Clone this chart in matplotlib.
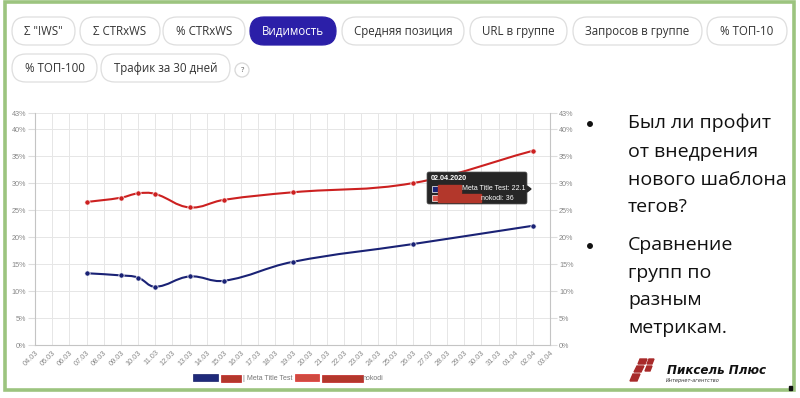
import matplotlib
matplotlib.use("Agg")
import matplotlib.pyplot as plt
import numpy as np
from matplotlib.path import Path
from matplotlib.patches import PathPatch, FancyBboxPatch, Rectangle, Polygon, Circle, Ellipse

# ---------------- data ----------------
dates = ["04.03", "05.03", "06.03", "07.03", "08.03", "09.03", "10.03", "11.03", "12.03",
         "13.03", "14.03", "15.03", "16.03", "17.03", "18.03", "19.03", "20.03", "21.03",
         "22.03", "23.03", "24.03", "25.03", "26.03", "27.03", "28.03", "29.03", "30.03",
         "31.03", "01.04", "02.04", "03.04"]
point_dates = ["07.03", "09.03", "10.03", "11.03", "13.03", "15.03", "19.03", "26.03", "02.04"]
meta_title_test = [13.3, 12.9, 12.5, 10.8, 12.7, 11.9, 15.4, 18.7, 22.1]
group_nokodi = [26.5, 27.3, 28.1, 28.0, 25.5, 26.9, 28.3, 30.0, 36.0]
y_ticks = [0, 5, 10, 15, 20, 25, 30, 35, 40, 43]
buttons_row1 = ['Σ "!WS"', "Σ CTRxWS", "% CTRxWS", "Видимость", "Средняя позиция",
                "URL в группе", "Запросов в группе", "% ТОП-10"]
buttons_row2 = ["% ТОП-100", "Трафик за 30 дней"]
bullets = [["Был ли профит", "от внедрения", "нового шаблона", "тегов?"],
           ["Сравнение", "групп по", "разным", "метрикам."]]

W, H = 800, 398
fig = plt.figure(figsize=(W / 100, H / 100), dpi=100)
fig.patch.set_facecolor("white")
CF = "Liberation Sans"

# ---------------- chart ----------------
L, R, T, B = 35, 550, 113, 345
ax = fig.add_axes([L / W, 1 - B / H, (R - L) / W, (B - T) / H])
ax.set_xlim(0, len(dates) - 1)
ax.set_ylim(0, 43)
ax.set_xticks(range(len(dates)))
ax.set_xticklabels(dates, rotation=45, ha="right", va="top", rotation_mode="anchor",
                   fontsize=5.3, color="#888888", family=CF)
ax.set_yticks(y_ticks)
ax.set_yticklabels([f"{v}%" for v in y_ticks], fontsize=5.2, color="#888888", family=CF)
ax.tick_params(axis="y", which="both", length=5, color="#dddddd", pad=1.5,
               right=True, labelright=True)
ax.tick_params(axis="x", length=0, pad=3)
ax.grid(True, color="#e6e6e6", linewidth=0.7)
ax.set_axisbelow(True)
ax.spines["top"].set_visible(False)
for s in ["left", "right", "bottom"]:
    ax.spines[s].set_color("#c4c4c4")
    ax.spines[s].set_linewidth(0.8)

SX = (R - L) / (len(dates) - 1)
SY = (B - T) / 43.0


def spline_path(xs, ys, t=0.4):
    p = np.column_stack([np.asarray(xs, float) * SX, np.asarray(ys, float) * SY])
    n = len(p)
    prev_cp, next_cp = [], []
    for i in range(n):
        p0 = p[max(i - 1, 0)]
        p1 = p[i]
        p2 = p[min(i + 1, n - 1)]
        d01 = np.hypot(*(p1 - p0))
        d12 = np.hypot(*(p2 - p1))
        tot = d01 + d12
        fa = t * d01 / tot if tot else 0
        fb = t * d12 / tot if tot else 0
        prev_cp.append(p1 - fa * (p2 - p0))
        next_cp.append(p1 + fb * (p2 - p0))
    verts = [p[0]]
    codes = [Path.MOVETO]
    for i in range(n - 1):
        verts += [next_cp[i], prev_cp[i + 1], p[i + 1]]
        codes += [Path.CURVE4] * 3
    verts = np.array(verts) / np.array([SX, SY])
    return Path(verts, codes)


px = [dates.index(d) for d in point_dates]
for vals, col in [(group_nokodi, "#cc2020"), (meta_title_test, "#1a2275")]:
    ax.add_patch(PathPatch(spline_path(px, vals), facecolor="none", edgecolor=col,
                           linewidth=1.5, zorder=3))
    ax.plot(px, vals, "o", color=col, markersize=3.8, markeredgecolor="white",
            markeredgewidth=0.5, zorder=4, clip_on=False)

# ---------------- overlay (pixel coordinates) ----------------
ov = fig.add_axes([0, 0, 1, 1], zorder=10)
ov.set_xlim(0, W)
ov.set_ylim(H, 0)
ov.axis("off")
ov.patch.set_alpha(0)

# frame
ov.add_patch(Rectangle((5, 2), 789, 388, fill=False, edgecolor="#9cc47f", linewidth=2.6))
ov.add_patch(Rectangle((789, 386), 2.5, 4, color="#111111"))

# buttons
row1_x = [(12, 75), (80, 160), (163, 245), (250, 336), (342, 464), (470, 567), (573, 702), (707, 787)]
row2_x = [(12, 97), (101, 230)]
for labels, xs, (y0, y1) in [(buttons_row1, row1_x, (17, 45)), (buttons_row2, row2_x, (54, 82))]:
    for lab, (x0, x1) in zip(labels, xs):
        active = lab == "Видимость"
        h = y1 - y0
        ov.add_patch(FancyBboxPatch((x0, y0), (x1 - x0), h,
                                    boxstyle=f"round,pad=0,rounding_size={h/2}",
                                    facecolor="#2b1fa8" if active else "white",
                                    edgecolor="#2b1fa8" if active else "#dedede",
                                    linewidth=0.9))
        ov.text((x0 + x1) / 2, (y0 + y1) / 2 + 0.5, lab, ha="center", va="center",
                fontsize=8.3, family="Open Sans",
                color="white" if active else "#333333",
                fontweight="medium" if active else "normal")
ov.add_patch(Circle((242, 70), 7, facecolor="white", edgecolor="#d8d8d8", linewidth=0.9))
ov.text(242, 70.5, "?", ha="center", va="center", fontsize=5.5, color="#555555",
        family="Open Sans")

# tooltip
ov.add_patch(FancyBboxPatch((427, 172), 100, 32, boxstyle="round,pad=0,rounding_size=2",
                            facecolor="#262626", edgecolor="#555555", linewidth=0.5))
ov.add_patch(Polygon([[527, 186], [531, 189], [527, 192]], closed=True, color="#262626"))
ov.text(430.5, 178.5, "02.04.2020", color="white", fontsize=5.2, fontweight="bold",
        va="center", ha="left", family=CF)
ov.add_patch(Rectangle((431.5, 185.5), 6, 6, facecolor="#1a2275", edgecolor="white", linewidth=0.5))
ov.add_patch(Rectangle((438, 184.5), 23, 8, color="#b3372b"))
ov.text(462, 189, "Meta Title Test: 22.1", color="white", fontsize=5.0, va="center",
        ha="left", family=CF)
ov.add_patch(Rectangle((431.5, 194.5), 6, 6, facecolor="#d9534a", edgecolor="white", linewidth=0.5))
ov.add_patch(Rectangle((438, 193.5), 43, 8, color="#b3372b"))
ov.text(481, 198, "nokodi: 36", color="white", fontsize=5.0, va="center", ha="left",
        family=CF)

# legend
ov.add_patch(Rectangle((193, 374), 25, 7, facecolor="#1f2a7a", edgecolor="#17206a", linewidth=0.5))
ov.add_patch(Rectangle((221, 375), 20, 7, facecolor="#b3372b", edgecolor="#c02020", linewidth=0.5))
ov.text(243, 378, "| Meta Title Test", fontsize=5.0, color="#777777", va="center", ha="left",
        family=CF)
ov.add_patch(Rectangle((295, 374), 24, 7, facecolor="#cf4a40", edgecolor="#e03030", linewidth=0.5))
ov.add_patch(Rectangle((322, 375), 41, 7, facecolor="#b3372b", edgecolor="#c02020", linewidth=0.5))
ov.text(363, 378, "nokodi", fontsize=5.0, color="#777777", va="center", ha="left", family=CF)

# bullet text
line_y = [[123, 152, 180, 207], [245, 273, 300, 328]]
for lines, ys in zip(bullets, line_y):
    ov.add_patch(Ellipse((590, ys[0] + 1), 4.5, 4.5, color="#111111"))
    for ln, y in zip(lines, ys):
        ov.text(628, y, ln, fontsize=14, va="center", ha="left", color="#111111",
                family="Open Sans")

# logo
red = "#a82a2a"
pieces = [
    [(638, 364), (640, 359), (647, 359), (645, 364)],
    [(647, 364), (649, 359), (654, 359), (652, 364)],
    [(634, 372), (637, 366), (644, 366), (641, 372)],
    [(645, 371), (647, 366), (652, 366), (650, 371)],
    [(630, 381), (633, 374), (640, 374), (637, 381)],
]
for pc in pieces:
    ov.add_patch(Polygon(pc, closed=True, color=red))
ov.text(667, 371, "Пиксель Плюс", fontsize=8.6, fontweight="bold", style="italic",
        va="center", ha="left", color="#111111", family="DejaVu Sans")
ov.text(666, 380.5, "Интернет-агентство", fontsize=3.6, style="italic", va="center",
        ha="left", color="#333333", family="DejaVu Sans")

fig.savefig("out.png", dpi=100)
